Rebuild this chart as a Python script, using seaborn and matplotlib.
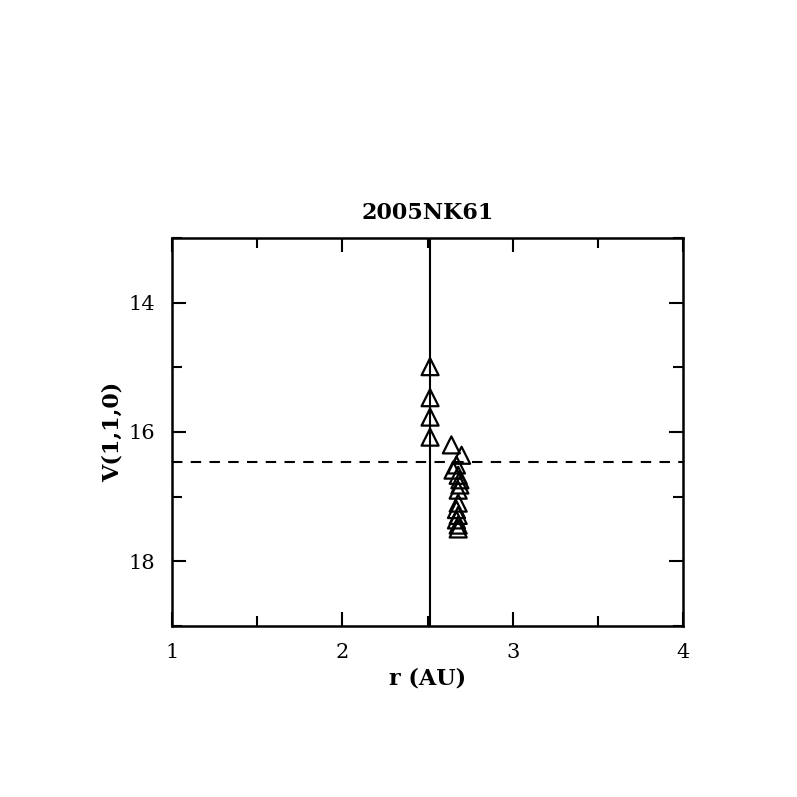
import matplotlib
matplotlib.use('Agg')
import matplotlib.pyplot as plt
import seaborn as sns
import pandas as pd
from matplotlib.ticker import MultipleLocator

# observations of 2005NK61
r_au = [2.515, 2.515, 2.515, 2.515,
        2.64, 2.70, 2.67, 2.65, 2.68, 2.69, 2.69, 2.68,
        2.68, 2.67, 2.68, 2.67, 2.68, 2.68]
v110 = [14.99, 15.47, 15.77, 16.08,
        16.2, 16.36, 16.51, 16.59, 16.67, 16.74, 16.82, 16.9,
        17.1, 17.2, 17.29, 17.36, 17.44, 17.5]

r_line = 2.515
v_mean = 16.465

sns.set_style('white')
plt.rcParams['font.family'] = ['DejaVu Serif']
plt.rcParams['text.color'] = 'black'
plt.rcParams['axes.labelcolor'] = 'black'

fig = plt.figure(figsize=(7.97, 7.97), dpi=100)
ax = fig.add_axes([0.2158, 0.2146, 0.6412, 0.4868])

data = pd.DataFrame({'r': r_au, 'v': v110})
sns.scatterplot(data=data, x='r', y='v', ax=ax, marker='^', s=150,
                facecolors='none', edgecolor='black', linewidth=1.6)

ax.axvline(r_line, color='black', lw=1.5)
ax.axhline(v_mean, color='black', lw=1.5, ls=(0, (5, 4)))

ax.set_xlim(1, 4)
ax.set_ylim(19, 13)
ax.xaxis.set_major_locator(MultipleLocator(1))
ax.xaxis.set_minor_locator(MultipleLocator(0.5))
ax.yaxis.set_major_locator(MultipleLocator(2))
ax.yaxis.set_minor_locator(MultipleLocator(1))
ax.tick_params(which='both', direction='in', top=True, right=True,
               bottom=True, left=True,
               width=1.5, labelsize=15, pad=12, colors='black')
ax.tick_params(which='major', length=10)
ax.tick_params(which='minor', length=7)
for s in ax.spines.values():
    s.set_linewidth(1.8)
    s.set_color('black')

ax.set_xlabel('r (AU)', fontsize=16, fontweight='bold', color='black')
ax.set_ylabel('V(1,1,0)', fontsize=16, fontweight='bold', color='black')
ax.set_title('2005NK61', fontsize=16, fontweight='bold', pad=14, color='black')

fig.savefig('out.png', dpi=100)
